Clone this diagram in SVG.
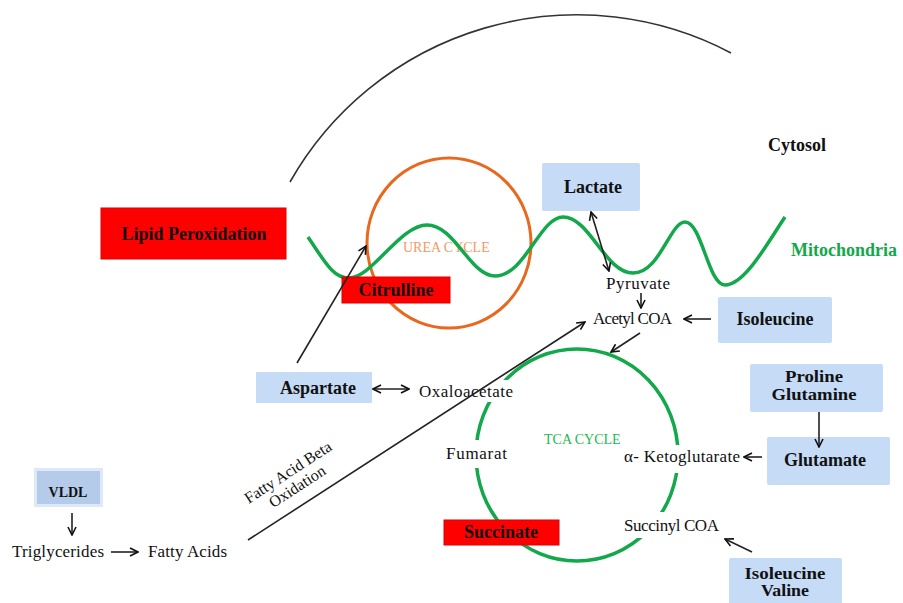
<svg xmlns="http://www.w3.org/2000/svg" width="903" height="603" viewBox="0 0 903 603">
<defs>
<marker id="ah" viewBox="0 0 10 10" refX="9" refY="5" markerWidth="10" markerHeight="10" markerUnits="userSpaceOnUse" orient="auto-start-reverse">
<path d="M1,1 L9,5 L1,9" fill="none" stroke="#111" stroke-width="1.6"/>
</marker>
<style>
.t{font-family:"Liberation Serif",serif;font-size:17px;fill:#111}
.b{font-family:"Liberation Serif",serif;font-size:18px;font-weight:bold;fill:#111}
.b2{font-family:"Liberation Serif",serif;font-size:16px;font-weight:bold;fill:#111}
.blue{fill:#c5dbf6}
.red{fill:#ff0000;stroke:#e00000;stroke-width:1}
.c{stroke:#222;stroke-width:1.6;fill:none}
</style>
</defs>
<rect width="903" height="603" fill="#fff"/>

<g id="membrane-arc">
<path d="M290 182 A330 330 0 0 1 731 53" fill="none" stroke="#333" stroke-width="1.6"/>
</g>
<g id="cytosol"><text class="b" x="768" y="151">Cytosol</text></g>

<g id="urea-cycle">
<ellipse cx="449" cy="243" rx="82" ry="85" fill="none" stroke="#e8691e" stroke-width="3"/>
<text x="403" y="252" style="font-family:'Liberation Serif',serif;font-size:14px;fill:#f39966">UREA CYCLE</text>
</g>

<g id="mitochondria-membrane">
<path d="M308 237 C325 262 333 278 349 278 C372 278 400 225 427 225 C455 225 470 276 495 276 C525 276 540 217 563 217 C590 217 605 273 633 273 C660 273 670 222 685 222 C702 222 708 285 725 285 C745 285 768 242 785 217" fill="none" stroke="#13a84b" stroke-width="3.5"/>
<text x="791" y="256" style="font-family:'Liberation Serif',serif;font-size:18px;font-weight:bold;fill:#13a84b">Mitochondria</text>
</g>

<g id="tca-cycle">
<ellipse cx="577" cy="455" rx="101" ry="106" fill="none" stroke="#13a84b" stroke-width="3.5"/>
<rect x="443" y="440" width="68" height="28" fill="#fff"/>
<rect x="620" y="445" width="70" height="28" fill="#fff"/>
<rect x="620" y="512" width="70" height="26" fill="#fff"/>
<rect x="480" y="380" width="36" height="22" fill="#fff"/>
<text x="544" y="444" style="font-family:'Liberation Serif',serif;font-size:14px;fill:#1db954">TCA CYCLE</text>
</g>

<g id="lipid-peroxidation">
<rect class="red" x="101" y="208" width="185" height="51"/>
<text class="b" x="194" y="240" text-anchor="middle">Lipid Peroxidation</text>
</g>

<g id="citrulline">
<rect class="red" x="342" y="277" width="108" height="26"/>
<text class="b" x="396" y="296" text-anchor="middle">Citrulline</text>
</g>

<g id="lactate">
<rect class="blue" x="542" y="163" width="98" height="48" rx="2"/>
<text class="b" x="593" y="193" text-anchor="middle">Lactate</text>
</g>

<g id="pyruvate"><text class="t" x="606" y="289" textLength="64">Pyruvate</text></g>
<g id="acetyl-coa"><text class="t" x="593" y="324" textLength="79">Acetyl COA</text></g>

<g id="isoleucine">
<rect class="blue" x="718" y="297" width="114" height="46" rx="2"/>
<text class="b" x="775" y="325" text-anchor="middle">Isoleucine</text>
</g>

<g id="aspartate">
<rect class="blue" x="256" y="372" width="116" height="31"/>
<text class="b" x="318" y="394" text-anchor="middle">Aspartate</text>
</g>

<g id="oxaloacetate"><text class="t" x="419" y="397" textLength="94">Oxaloacetate</text></g>
<g id="fumarat"><text class="t" x="446" y="459" textLength="61">Fumarat</text></g>
<g id="ketoglutarate"><text class="t" x="624" y="462" textLength="116">α- Ketoglutarate</text></g>
<g id="succinyl-coa"><text class="t" x="624" y="531" textLength="95">Succinyl COA</text></g>

<g id="succinate">
<rect class="red" x="444" y="520" width="115" height="25"/>
<text class="b" x="501" y="538" text-anchor="middle">Succinate</text>
</g>

<g id="proline-glutamine">
<rect class="blue" x="750" y="364" width="133" height="48" rx="2"/>
<text class="b2" x="814" y="382" text-anchor="middle" textLength="58" lengthAdjust="spacingAndGlyphs">Proline</text>
<text class="b2" x="814" y="400" text-anchor="middle" textLength="85" lengthAdjust="spacingAndGlyphs">Glutamine</text>
</g>

<g id="glutamate">
<rect class="blue" x="767" y="437" width="123" height="48" rx="2"/>
<text class="b" x="825" y="466" text-anchor="middle">Glutamate</text>
</g>

<g id="isoleucine-valine">
<rect class="blue" x="729" y="558" width="113" height="50" rx="2"/>
<text class="b2" x="785" y="579" text-anchor="middle" textLength="81" lengthAdjust="spacingAndGlyphs">Isoleucine</text>
<text class="b2" x="785" y="596" text-anchor="middle" textLength="48" lengthAdjust="spacingAndGlyphs">Valine</text>
</g>

<g id="vldl">
<rect x="34" y="468" width="69" height="39" fill="#dde9f9"/>
<rect x="37" y="471" width="63" height="33" fill="#b4cbea"/>
<text x="68" y="497" text-anchor="middle" style="font-family:'Liberation Serif',serif;font-size:14px;font-weight:bold;fill:#111">VLDL</text>
</g>

<g id="triglycerides"><text class="t" x="12" y="557" textLength="92">Triglycerides</text></g>
<g id="fatty-acids"><text class="t" x="148" y="557" textLength="79">Fatty Acids</text></g>

<g id="fao-label" transform="translate(293,480) rotate(-33)">
<text class="t" x="0" y="-4" text-anchor="middle" style="font-size:16px">Fatty Acid Beta</text>
<text class="t" x="0" y="13" text-anchor="middle" style="font-size:16px">Oxidation</text>
</g>

<g id="connectors">
<line class="c" x1="248" y1="540" x2="585" y2="322" marker-end="url(#ah)"/>
<line class="c" x1="297" y1="363" x2="366" y2="246" marker-end="url(#ah)"/>
<line class="c" x1="591" y1="212" x2="609" y2="271" marker-start="url(#ah)" marker-end="url(#ah)"/>
<line class="c" x1="641" y1="293" x2="641" y2="308" marker-end="url(#ah)"/>
<line class="c" x1="711" y1="319" x2="684" y2="319" marker-end="url(#ah)"/>
<line class="c" x1="640" y1="333" x2="611" y2="352" marker-end="url(#ah)"/>
<line class="c" x1="373" y1="389" x2="409" y2="389" marker-start="url(#ah)" marker-end="url(#ah)"/>
<line class="c" x1="819" y1="412" x2="819" y2="447" marker-end="url(#ah)"/>
<line class="c" x1="762" y1="457" x2="744" y2="457" marker-end="url(#ah)"/>
<line class="c" x1="752" y1="552" x2="725" y2="539" marker-end="url(#ah)"/>
<line class="c" x1="72" y1="513" x2="72" y2="535" marker-end="url(#ah)"/>
<line class="c" x1="111" y1="552" x2="138" y2="552" marker-end="url(#ah)"/>
</g>
</svg>
